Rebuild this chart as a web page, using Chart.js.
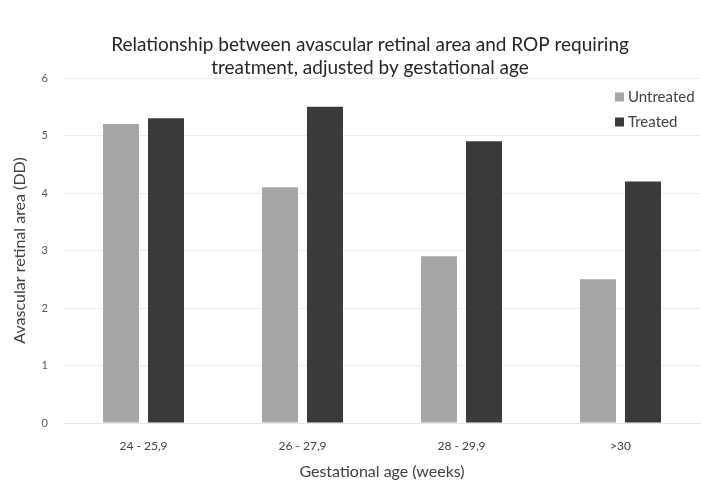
<!DOCTYPE html>
<html>
<head>
<meta charset="utf-8">
<script src="https://cdn.jsdelivr.net/npm/chart.js@4.4.1/dist/chart.umd.min.js"></script>
<style>
  html, body { margin: 0; padding: 0; background: #fff; }
  #wrap { width: 701px; height: 481px; position: relative; }
</style>
</head>
<body>
<div id="wrap"><canvas id="chart"></canvas></div>
<script>
// chart data
const categories = ['24 - 25,9', '26 - 27,9', '28 - 29,9', '>30'];
const untreated = [5.2, 4.1, 2.9, 2.5];
const treated = [5.3, 5.5, 4.9, 4.2];
const yTicks = [0, 1, 2, 3, 4, 5, 6];
const titleLines = ['Relationship between avascular retinal area and ROP requiring', 'treatment, adjusted by gestational age'];

const FONT = 'Lato, "Open Sans", sans-serif';

// title centred over the whole figure incl. axis titles (like the original)
const figTitle = {
    id: 'figTitle',
    afterDraw(chart) {
        const ctx = chart.ctx;
        ctx.save();
        ctx.font = '19px ' + FONT;
        ctx.fillStyle = '#262626';
        ctx.textAlign = 'center';
        ctx.textBaseline = 'middle';
        titleLines.forEach((t, i) => ctx.fillText(t, 370, 45 + i * 23));
        ctx.restore();
    }
};

// legend drawn inside the plot, top right
const cornerLegend = {
    id: 'cornerLegend',
    afterDraw(chart) {
        const ctx = chart.ctx;
        const area = chart.chartArea;
        const x = area.right - 85;
        let y = area.top + 19;
        ctx.save();
        ctx.font = '15px ' + FONT;
        ctx.textBaseline = 'middle';
        chart.data.datasets.forEach(ds => {
            ctx.fillStyle = ds.backgroundColor;
            ctx.fillRect(x, y - 4.5, 9, 9);
            ctx.fillStyle = '#404040';
            ctx.fillText(ds.label, x + 13, y);
            y += 25;
        });
        ctx.restore();
    }
};

new Chart(document.getElementById('chart'), {
    type: 'bar',
    data: {
        labels: categories,
        datasets: [
            { label: 'Untreated', data: untreated, backgroundColor: '#a6a6a6' },
            { label: 'Treated', data: treated, backgroundColor: '#3a3a3a' }
        ]
    },
    options: {
        responsive: true,
        maintainAspectRatio: false,
        animation: false,
        categoryPercentage: 0.566,
        barPercentage: 0.8,
        layout: { padding: { left: 0, right: 1, top: 78, bottom: 0 } },
        plugins: {
            legend: { display: false },
            tooltip: { enabled: false },
            title: { display: false }
        },
        scales: {
            x: {
                grid: { display: false },
                border: { color: '#e6e6e6', width: 1 },
                ticks: { color: '#404040', font: { family: FONT, size: 12 }, padding: 8 },
                title: {
                    display: true,
                    text: 'Gestational age (weeks)',
                    color: '#404040',
                    font: { family: FONT, size: 16 },
                    padding: { top: 4, bottom: 0 }
                },
                afterFit: s => { s.height = 58; }
            },
            y: {
                min: 0,
                max: 6,
                afterBuildTicks: s => { s.ticks = yTicks.map(v => ({ value: v })); },
                grid: { color: '#ececec', drawTicks: false },
                border: { display: false },
                ticks: { color: '#595959', font: { family: FONT, size: 11 }, padding: 16 },
                title: {
                    display: true,
                    text: 'Avascular retinal area (DD)',
                    color: '#404040',
                    font: { family: FONT, size: 16 },
                    padding: { top: 10, bottom: 4 }
                },
                afterFit: s => { s.width = 64; }
            }
        }
    },
    plugins: [cornerLegend, figTitle]
});
</script>
</body>
</html>
